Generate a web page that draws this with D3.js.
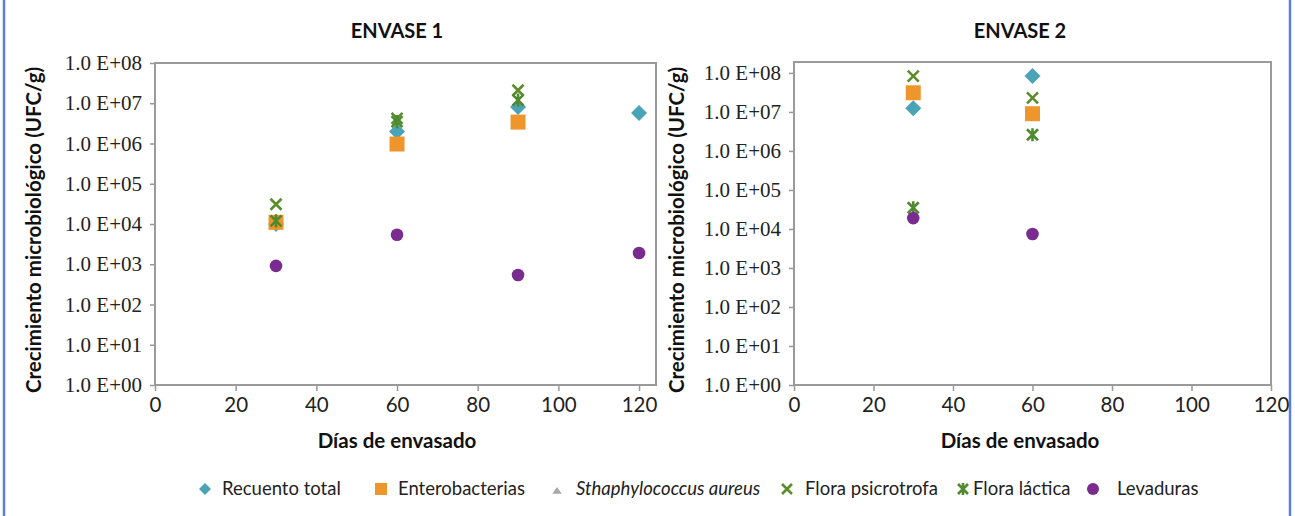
<!DOCTYPE html>
<html>
<head>
<meta charset="utf-8">
<title>Crecimiento microbiológico</title>
<style>
body { margin: 0; background: #fff; }
.tick-y text { font-family: "Liberation Serif", serif; font-size: 21px; fill: #222; }
.tick-x text { font-family: Lato, sans-serif; font-size: 20.5px; fill: #222; }
.title { font-family: Lato, sans-serif; font-weight: bold; font-size: 20px; fill: #111; }
.axis-title { font-family: Lato, sans-serif; font-weight: bold; font-size: 20.5px; fill: #111; }
.legend text { font-family: Lato, sans-serif; font-size: 18.5px; fill: #222; }
</style>
</head>
<body>
<script src="https://cdn.jsdelivr.net/npm/d3@7"></script>
<script>

// days of packaging
var days1 = [30, 60, 90, 120];
var days2 = [30, 60];

// ENVASE 1 (UFC/g), null = no data
var recuento1 = [1.0e4, 2.0e6, 8.1e6, 5.7e6];
var entero1   = [1.1e4, 9.7e5, 3.4e6, null];
var staph1    = [null, null, null, null];
var psicro1   = [3.1e4, 4.2e6, 2.1e7, null];
var lactica1  = [1.2e4, 3.5e6, 1.2e7, null];
var leva1     = [9.1e2, 5.4e3, 5.4e2, 1.9e3];

// ENVASE 2
var recuento2 = [1.25e7, 8.3e7];
var entero2   = [3.1e7, 9.0e6];
var staph2    = [null, null];
var psicro2   = [8.3e7, 2.3e7];
var lactica2  = [3.5e4, 2.6e6];
var leva2     = [1.9e4, 7.4e3];

var seriesNames = ["Recuento total", "Enterobacterias", "Sthaphylococcus aureus",
                   "Flora psicrotrofa", "Flora láctica", "Levaduras"];
var yTicks = [1e0, 1e1, 1e2, 1e3, 1e4, 1e5, 1e6, 1e7, 1e8];
var xTicks = [0, 20, 40, 60, 80, 100, 120];

var width = 1295, height = 516;

var svg = d3.select("body").append("svg")
    .attr("width", width)
    .attr("height", height);

// blue frame of the figure
svg.append("line").attr("x1", 4).attr("x2", 4).attr("y1", 0).attr("y2", height)
    .attr("stroke", "#5f7fd6").attr("stroke-width", 2.5);
svg.append("line").attr("x1", 1290).attr("x2", 1290).attr("y1", 0).attr("y2", height)
    .attr("stroke", "#5f7fd6").attr("stroke-width", 2.5);

// marker shapes, Excel style
var shapes = {
  diamond: function(s) { return "M0," + (-s) + "L" + s + ",0L0," + s + "L" + (-s) + ",0Z"; },
  square: function(s) { return "M" + (-s) + "," + (-s) + "h" + (2 * s) + "v" + (2 * s) + "h" + (-2 * s) + "Z"; },
  triangle: function(s) { return "M0," + (-s) + "L" + (s * 1.2) + "," + (s * 0.7) + "L" + (-s * 1.2) + "," + (s * 0.7) + "Z"; },
  cross: function(s) { return "M" + (-s) + "," + (-s) + "L" + s + "," + s + "M" + s + "," + (-s) + "L" + (-s) + "," + s; },
  star: function(s) { return "M" + (-s) + "," + (-s) + "L" + s + "," + s + "M" + s + "," + (-s) + "L" + (-s) + "," + s + "M0," + (-s * 1.2) + "L0," + (s * 1.2); },
  circle: function(s) { return "M" + s + ",0A" + s + "," + s + " 0 1,1 " + (-s) + ",0A" + s + "," + s + " 0 1,1 " + s + ",0Z"; }
};

var styles = [
  {shape: "diamond", size: 8, fill: "#4ba3b7", stroke: "none"},
  {shape: "square", size: 7.5, fill: "#ee952c", stroke: "none"},
  {shape: "triangle", size: 5, fill: "#a8a8a8", stroke: "none"},
  {shape: "cross", size: 5.5, fill: "none", stroke: "#5c8d2c"},
  {shape: "star", size: 5.5, fill: "none", stroke: "#4e8a2f"},
  {shape: "circle", size: 6.3, fill: "#7a2b90", stroke: "none"}
];

function drawPanel(opt) {
  var x = d3.scaleLinear().domain(opt.xDomain).range([opt.left, opt.right]);
  var y = d3.scaleLog().domain(opt.yDomain).range([opt.bottom, opt.top]);

  var g = svg.append("g");

  g.append("g")
      .attr("class", "tick-y")
      .attr("transform", "translate(" + opt.left + ",0)")
      .call(d3.axisLeft(y).tickValues(yTicks).tickSize(5).tickPadding(8)
        .tickFormat(function(d) {
          var e = Math.round(Math.log10(d));
          return "1.0 E+" + (e < 10 ? "0" : "") + e;
        }))
      .call(function(a) { a.select(".domain").remove(); })
      .call(function(a) { a.selectAll("line").attr("stroke", "#999").attr("stroke-width", 1.5); });

  g.append("g")
      .attr("class", "tick-x")
      .attr("transform", "translate(0," + opt.bottom + ")")
      .call(d3.axisBottom(x).tickValues(xTicks).tickSize(6).tickPadding(6))
      .call(function(a) { a.select(".domain").remove(); })
      .call(function(a) { a.selectAll("line").attr("stroke", "#999").attr("stroke-width", 1.5); });

  // plot box
  g.append("rect")
      .attr("x", opt.left).attr("y", opt.top)
      .attr("width", opt.right - opt.left).attr("height", opt.bottom - opt.top)
      .attr("fill", "none").attr("stroke", "#9a9a9a").attr("stroke-width", 2);

  g.append("text").attr("class", "title")
      .attr("x", opt.titleX).attr("y", 38)
      .attr("text-anchor", "middle").text(opt.title);

  g.append("text").attr("class", "axis-title")
      .attr("x", opt.titleX).attr("y", 448)
      .attr("text-anchor", "middle").text("Días de envasado");

  g.append("text").attr("class", "axis-title")
      .attr("transform", "translate(" + opt.yTitleX + ",230) rotate(-90)")
      .attr("text-anchor", "middle").text("Crecimiento microbiológico (UFC/g)");

  opt.series.forEach(function(vals, i) {
    var st = styles[i];
    var pts = vals.map(function(v, j) { return {x: opt.days[j], v: v}; })
        .filter(function(p) { return p.v != null; });
    g.append("g").selectAll("path")
        .data(pts)
        .enter().append("path")
        .attr("transform", function(p) { return "translate(" + x(p.x) + "," + y(p.v) + ")"; })
        .attr("d", shapes[st.shape](st.size))
        .attr("fill", st.fill)
        .attr("stroke", st.stroke)
        .attr("stroke-width", 2.6);
  });
}

drawPanel({
  title: "ENVASE 1", titleX: 397, yTitleX: 41,
  left: 155, right: 656, top: 63, bottom: 385,
  xDomain: [0, 124.2], yDomain: [1, 1e8],
  days: days1,
  series: [recuento1, entero1, staph1, psicro1, lactica1, leva1]
});

drawPanel({
  title: "ENVASE 2", titleX: 1020, yTitleX: 684,
  left: 794, right: 1271, top: 62, bottom: 385,
  xDomain: [0, 120], yDomain: [1, Math.pow(10, 8.28)],
  days: days2,
  series: [recuento2, entero2, staph2, psicro2, lactica2, leva2]
});

// legend
var legendX = [205, 381, 557, 787, 963, 1093];
var legendTextX = [222, 398, 576, 805, 973, 1117];
var legend = svg.append("g").attr("class", "legend");
seriesNames.forEach(function(name, i) {
  var st = styles[i];
  var ls = st.shape === "triangle" ? 4 : (st.shape === "cross" || st.shape === "star" ? 5 : 6);
  legend.append("path")
      .attr("transform", "translate(" + legendX[i] + "," + (st.shape === "triangle" ? 491 : 489) + ")")
      .attr("d", shapes[st.shape](ls))
      .attr("fill", st.fill)
      .attr("stroke", st.stroke)
      .attr("stroke-width", 2.6);
  legend.append("text")
      .attr("x", legendTextX[i]).attr("y", 495)
      .style("font-style", i === 2 ? "italic" : null)
      .text(name);
});

</script>
</body>
</html>
